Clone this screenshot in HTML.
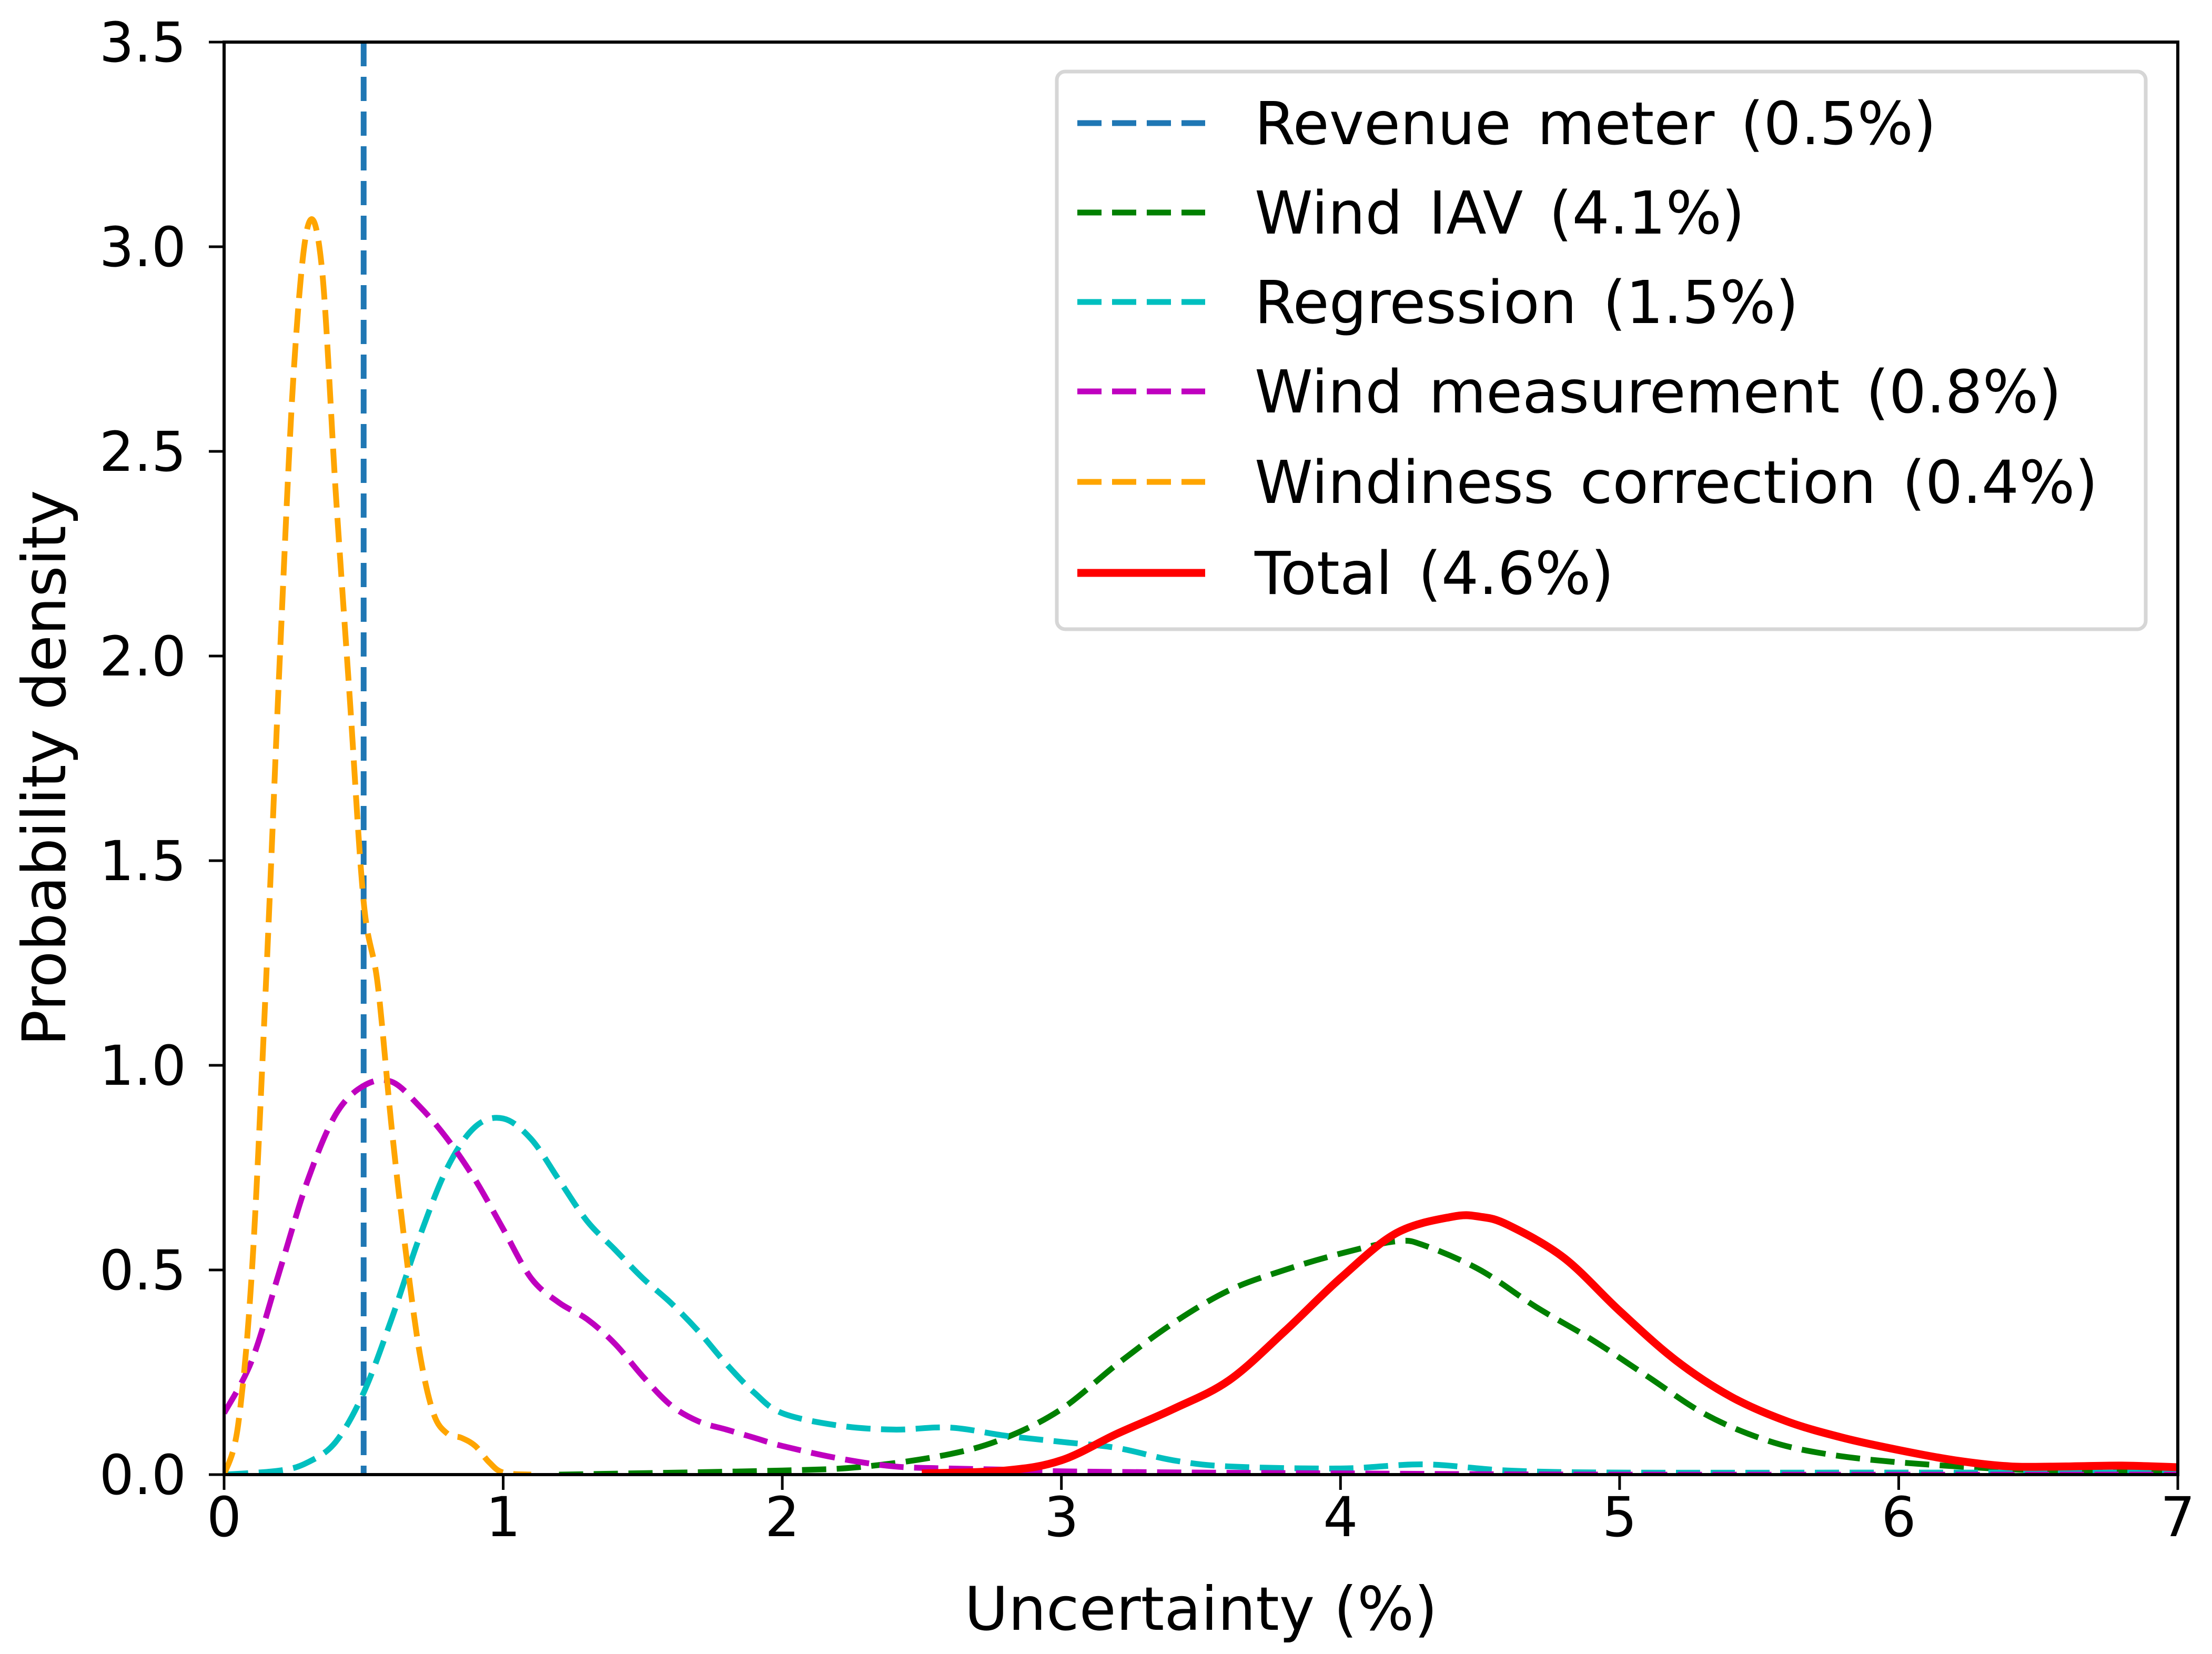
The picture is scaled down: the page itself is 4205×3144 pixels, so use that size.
<!DOCTYPE html>
<html><head><meta charset="utf-8"><style>
html,body{margin:0;padding:0;background:#fff;}
svg{display:block;font-family:"DejaVu Sans","Liberation Sans",sans-serif;}
</style></head><body>
<svg id="chart" width="4205" height="3144" viewBox="0 0 4205 3144" xmlns="http://www.w3.org/2000/svg">
<defs><clipPath id="plotclip"><rect x="426" y="80" width="3714" height="2723"/></clipPath></defs>
<g id="series" clip-path="url(#plotclip)"></g>
<g id="axes"></g>
<text x="2283" y="3098" font-size="114" text-anchor="middle">Uncertainty (%)</text>
<text transform="translate(124,1460) rotate(-90)" font-size="114" text-anchor="middle">Probability density</text>
<g id="legend"></g>
</svg>
<script>
const revX = [0.5];
const iavX = [1.2,2.0,2.3,2.6,2.8,3.0,3.2,3.4,3.6,3.8,4.0,4.2,4.3,4.5,4.7,4.9,5.1,5.3,5.5,5.7,6.0,6.5,7.0];
const iavY = [0,0.01,0.02,0.05,0.09,0.16,0.27,0.37,0.45,0.5,0.54,0.57,0.56,0.5,0.41,0.33,0.24,0.15,0.09,0.055,0.03,0.01,0.005];
const regX = [0,0.2,0.3,0.4,0.5,0.6,0.7,0.8,0.9,1.0,1.1,1.2,1.3,1.4,1.5,1.6,1.7,1.8,1.9,2.0,2.2,2.4,2.6,2.8,3.0,3.2,3.4,3.6,4.0,4.3,4.6,5.0,6.0,7.0];
const regY = [0,0.01,0.03,0.08,0.2,0.38,0.58,0.75,0.85,0.87,0.82,0.72,0.62,0.55,0.48,0.42,0.35,0.27,0.2,0.15,0.12,0.11,0.115,0.095,0.08,0.065,0.035,0.02,0.015,0.025,0.01,0.005,0.005,0.005];
const wmX = [0,0.1,0.2,0.3,0.4,0.5,0.6,0.7,0.8,0.9,1.0,1.1,1.2,1.3,1.4,1.5,1.6,1.7,1.8,1.9,2.0,2.2,2.4,2.6,2.8,3.0,3.5,4.0,5.0,7.0];
const wmY = [0.15,0.28,0.5,0.72,0.88,0.95,0.96,0.9,0.82,0.72,0.6,0.48,0.42,0.38,0.32,0.24,0.17,0.13,0.11,0.09,0.07,0.04,0.02,0.015,0.012,0.008,0.005,0.003,0,0];
const wcX = [0,0.05,0.1,0.15,0.2,0.25,0.3,0.35,0.4,0.45,0.5,0.55,0.6,0.65,0.7,0.75,0.8,0.85,0.9,0.95,1.0,1.1];
const wcY = [0,0.12,0.5,1.2,2.0,2.7,3.05,2.95,2.4,1.9,1.4,1.2,0.85,0.55,0.3,0.15,0.1,0.09,0.07,0.03,0.005,0];
const totX = [2.5,2.8,3.0,3.2,3.4,3.6,3.8,4.0,4.2,4.4,4.5,4.6,4.8,5.0,5.2,5.4,5.6,5.8,6.0,6.2,6.4,6.6,6.8,7.0];
const totY = [0.003,0.01,0.035,0.1,0.16,0.23,0.35,0.48,0.59,0.63,0.63,0.61,0.53,0.4,0.28,0.19,0.13,0.09,0.06,0.035,0.02,0.02,0.022,0.018];
const xTicks = [0,1,2,3,4,5,6,7];
const yTicks = [0,0.5,1.0,1.5,2.0,2.5,3.0,3.5];
const legendLabels = ["Revenue meter (0.5%)","Wind IAV (4.1%)","Regression (1.5%)","Wind measurement (0.8%)","Windiness correction (0.4%)","Total (4.6%)"];

const NS="http://www.w3.org/2000/svg";
const L=426,R=4140,T=80,B=2803;
const sx=v=>L+(v-0)/(7-0)*(R-L);
const sy=v=>B-(v-0)/(3.5-0)*(B-T);
function mk(tag,attrs,parent){const e=document.createElementNS(NS,tag);for(const k in attrs)e.setAttribute(k,attrs[k]);parent.appendChild(e);return e;}
function smooth(xs,ys){
  const p=xs.map((x,i)=>[sx(x),sy(ys[i])]);
  let d="M"+p[0][0]+","+p[0][1];
  for(let i=0;i<p.length-1;i++){
    const p0=p[i-1]||p[i],p1=p[i],p2=p[i+1],p3=p[i+2]||p2;
    const c1=[p1[0]+(p2[0]-p0[0])/6,p1[1]+(p2[1]-p0[1])/6];
    const c2=[p2[0]-(p3[0]-p1[0])/6,p2[1]-(p3[1]-p1[1])/6];
    d+=" C"+c1[0]+","+c1[1]+" "+c2[0]+","+c2[1]+" "+p2[0]+","+p2[1];
  }
  return d;
}
const sg=document.getElementById('series');
const dash="46,20";
const series=[
 {name:'wind-iav-line',xs:iavX,ys:iavY,c:'#008000',w:11,d:dash},
 {name:'regression-line',xs:regX,ys:regY,c:'#00bfbf',w:11,d:dash},
 {name:'wind-measurement-line',xs:wmX,ys:wmY,c:'#bf00bf',w:11,d:dash},
 {name:'windiness-correction-line',xs:wcX,ys:wcY,c:'#ffa500',w:11,d:dash},
 {name:'total-line',xs:totX,ys:totY,c:'#ff0000',w:15,d:null}
];
revX.forEach(v=>{
  const l=mk('line',{x1:sx(v),x2:sx(v),y1:T,y2:B,stroke:'#1f77b4','stroke-width':11,'stroke-dasharray':dash},sg);
  
  
});
series.forEach(s=>{
  const a={d:smooth(s.xs,s.ys),fill:'none',stroke:s.c,'stroke-width':s.w,'stroke-linejoin':'round'};
  if(s.d)a['stroke-dasharray']=s.d;
  const p=mk('path',a,sg);
  
  
});
const ax=document.getElementById('axes');
const frame=mk('rect',{x:L,y:T,width:R-L,height:B-T,fill:'none',stroke:'#000','stroke-width':6},ax);


xTicks.forEach(v=>{
  const t=mk('line',{x1:sx(v),x2:sx(v),y1:B,y2:B+29,stroke:'#000','stroke-width':5},ax);
  
  
  const tx=mk('text',{x:sx(v),y:B+117,'font-size':104,'text-anchor':'middle'},ax);
  tx.textContent=String(v);
  
  
});
yTicks.forEach(v=>{
  const t=mk('line',{x1:L-29,x2:L,y1:sy(v),y2:sy(v),stroke:'#000','stroke-width':5},ax);
  
  
  const tx=mk('text',{x:L-72,y:sy(v)+37,'font-size':104,'text-anchor':'end'},ax);
  tx.textContent=v.toFixed(1);
  
  
});
const lg=document.getElementById('legend');
const box=mk('rect',{x:2009,y:136,width:2070,height:1060,rx:16,fill:'#fff',stroke:'#d6d6d6','stroke-width':7},lg);


const lc=['#1f77b4','#008000','#00bfbf','#bf00bf','#ffa500','#ff0000'];
const ly=[234,404,574,744,916,1089];
legendLabels.forEach((lab,i)=>{
  const a={x1:2048,x2:2291,y1:ly[i],y2:ly[i],stroke:lc[i],'stroke-width':i==5?15:11};
  if(i<5)a['stroke-dasharray']=dash;
  const l=mk('line',a,lg);
  
  
  const t=mk('text',{x:2385,y:ly[i]+40,'font-size':112,'word-spacing':'14'},lg);
  t.textContent=lab;
  
  
});
</script>
</body></html>
